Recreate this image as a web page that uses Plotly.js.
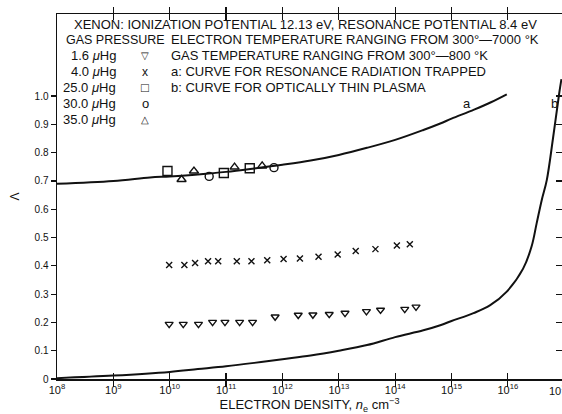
<!DOCTYPE html>
<html>
<head>
<meta charset="utf-8">
<script src="https://cdn.plot.ly/plotly-3.0.1.min.js"></script>
<style>html,body{margin:0;padding:0;background:#fff;}#chart{width:562px;height:414px;}</style>
</head>
<body>
<div id="chart"></div>
<script>
// Data (x = electron density in cm^-3, y = Lambda)
const p16_x = [9.99,10.24,10.51,10.76,10.98,11.24,11.47,11.87,12.28,12.54,12.83,13.11,13.49,13.74,14.17,14.37].map(v => Math.pow(10, v));
const p16_y = [0.194,0.194,0.194,0.201,0.201,0.201,0.201,0.220,0.226,0.227,0.229,0.233,0.239,0.244,0.247,0.255];
const p40_x = [9.99,10.26,10.45,10.68,10.86,11.19,11.45,11.73,12.02,12.31,12.64,12.98,13.30,13.65,14.03,14.26].map(v => Math.pow(10, v));
const p40_y = [0.403,0.403,0.410,0.416,0.416,0.416,0.416,0.420,0.424,0.426,0.432,0.440,0.452,0.459,0.472,0.476];
const p250_x = [9.96,10.96,11.42].map(v => Math.pow(10, v));
const p250_y = [0.735,0.728,0.745];
const p300_x = [10.70,11.85].map(v => Math.pow(10, v));
const p300_y = [0.716,0.747];
const p350_x = [10.21,10.43,11.15,11.64].map(v => Math.pow(10, v));
const p350_y = [0.705,0.735,0.749,0.753];
// curve a: resonance radiation trapped
const curveA_x = [8,9,9.65,10,10.5,11,11.5,12,12.5,13,13.5,14,14.5,14.8,15,15.4,15.7,15.98].map(v => Math.pow(10, v));
const curveA_y = [0.690,0.700,0.712,0.716,0.723,0.732,0.744,0.757,0.772,0.792,0.817,0.845,0.880,0.903,0.920,0.952,0.978,1.006];
// curve b: optically thin plasma
const curveB_x = [8,9,10,10.5,11,11.5,12,12.5,13,13.5,14,14.5,14.8,15,15.39,15.68,15.98,16.27,16.42,16.51,16.60,16.69,16.8,16.91,16.95].map(v => Math.pow(10, v));
const curveB_y = [0.003,0.012,0.025,0.035,0.045,0.057,0.070,0.083,0.100,0.120,0.148,0.172,0.190,0.205,0.233,0.260,0.309,0.390,0.468,0.550,0.632,0.703,0.850,1.009,1.060];
const xTickVals = [1e8,1e9,1e10,1e11,1e12,1e13,1e14,1e15,1e16];
const xTickText = ['10<sup>8</sup>','10<sup>9</sup>','10<sup>10</sup>','10<sup>11</sup>','10<sup>12</sup>','10<sup>13</sup>','10<sup>14</sup>','10<sup>15</sup>','10<sup>16</sup>'];
const yTickVals = [0,0.1,0.2,0.3,0.4,0.5,0.6,0.7,0.8,0.9,1.0];
const yTickText = ['0','0.1','0.2','0.3','0.4','0.5','0.6','0.7','0.8','0.9','1.0'];

const FONT = 'Liberation Sans, Arial, sans-serif';
const mk = (sym, size) => ({symbol: sym, size: size, color: '#111', line: {color: '#111', width: 1.4}});
const traces = [
  {x: curveA_x, y: curveA_y, mode: 'lines', line: {color: '#111', width: 2, shape: 'spline'}},
  {x: curveB_x, y: curveB_y, mode: 'lines', line: {color: '#111', width: 2, shape: 'spline'}},
  {x: p16_x, y: p16_y, mode: 'markers', marker: mk('triangle-down-open', 7)},
  {x: p40_x, y: p40_y, mode: 'markers', marker: mk('x-thin-open', 6)},
  {x: p250_x, y: p250_y, mode: 'markers', marker: mk('square-open', 9)},
  {x: p300_x, y: p300_y, mode: 'markers', marker: mk('circle-open', 8)},
  {x: p350_x, y: p350_y, mode: 'markers', marker: mk('triangle-up-open', 8)},
  {x: [1e12], y: [0.5], yaxis: 'y2', mode: 'markers', marker: {opacity: 0}, hoverinfo: 'skip'}
];

function txt(x, y, t, anchor, size) {
  return {xref: 'paper', yref: 'paper', x: x, y: y, text: t, showarrow: false,
          xanchor: anchor || 'left', yanchor: 'middle', font: {family: FONT, size: size || 13, color: '#111'}};
}
// paper coordinates: plot area from px 57..562 (x) and 14..379 (y)
const px = v => (v - 57) / 505;
const py = v => (379 - v) / 365;
const L0 = 24, LS = 15.9;
const anns = [
  txt(px(305), py(L0), 'XENON: IONIZATION POTENTIAL 12.13 eV, RESONANCE POTENTIAL 8.4 eV', 'center'),
  txt(px(64), py(L0 + LS), 'GAS PRESSURE', 'left', 12.5),
  txt(px(169), py(L0 + LS), 'ELECTRON TEMPERATURE RANGING FROM 300°—7000 °K', 'left'),
  txt(px(118), py(L0 + 2*LS), '1.6 <i>μ</i>Hg', 'right'),
  txt(px(118), py(L0 + 3*LS), '4.0 <i>μ</i>Hg', 'right'),
  txt(px(118), py(L0 + 4*LS), '25.0 <i>μ</i>Hg', 'right'),
  txt(px(118), py(L0 + 5*LS), '30.0 <i>μ</i>Hg', 'right'),
  txt(px(118), py(L0 + 6*LS), '35.0 <i>μ</i>Hg', 'right'),
  txt(px(145), py(L0 + 2*LS), '▽', 'center', 10),
  txt(px(145), py(L0 + 3*LS), 'x', 'center', 12),
  txt(px(145), py(L0 + 4*LS), '□', 'center', 13),
  txt(px(145), py(L0 + 5*LS), 'o', 'center', 13),
  txt(px(145), py(L0 + 6*LS), '△', 'center', 10),
  txt(px(169), py(L0 + 2*LS), 'GAS TEMPERATURE RANGING FROM 300°—800 °K', 'left'),
  txt(px(169), py(L0 + 3*LS), 'a: CURVE FOR RESONANCE RADIATION TRAPPED', 'left'),
  txt(px(169), py(L0 + 4*LS), 'b: CURVE FOR OPTICALLY THIN PLASMA', 'left'),
  {x: 15.28, y: 0.975, xref: 'x', yref: 'y', text: 'a', showarrow: false, font: {family: FONT, size: 13, color: '#111'}},
  {x: 16.83, y: 0.975, xref: 'x', yref: 'y', text: 'b', showarrow: false, font: {family: FONT, size: 13, color: '#111'}},
  txt(px(547), py(390), '10<sup>17</sup>', 'left', 11)
];

const layout = {
  width: 562, height: 414,
  margin: {l: 57, r: 0, t: 14, b: 35},
  paper_bgcolor: '#fff', plot_bgcolor: '#fff',
  showlegend: false,
  font: {family: FONT, color: '#111'},
  xaxis: {
    type: 'log', range: [8, 16.96],
    tickvals: xTickVals, ticktext: xTickText,
    ticks: 'inside', ticklen: 6, tickcolor: '#111', tickwidth: 1.2,
    showline: true, linecolor: '#111', linewidth: 1.5, mirror: 'allticks',
    showgrid: false, zeroline: false,
    tickfont: {family: FONT, size: 11, color: '#111'},
    title: {text: 'ELECTRON DENSITY, <i>n</i><sub>e</sub> cm<sup>−3</sup>', font: {family: FONT, size: 13, color: '#111'}, standoff: 3}
  },
  yaxis: {
    range: [0, 1.29],
    tickvals: yTickVals, ticktext: yTickText,
    ticks: 'outside', ticklen: 5, tickcolor: '#111', tickwidth: 1.2,
    showline: true, linecolor: '#111', linewidth: 1.5, mirror: true,
    showgrid: false, zeroline: false,
    tickfont: {family: FONT, size: 10, color: '#111'},
    title: {text: 'Λ', font: {family: FONT, size: 12, color: '#111'}, standoff: 12}
  },
  yaxis2: {
    overlaying: 'y', side: 'right', range: [0, 1.29],
    tickvals: yTickVals, showticklabels: false,
    ticks: 'inside', ticklen: 6, tickcolor: '#111', tickwidth: 1.2,
    showline: false, showgrid: false, zeroline: false
  },
  annotations: anns
};

Plotly.newPlot('chart', traces, layout, {displayModeBar: false, staticPlot: true});
</script>
</body>
</html>
